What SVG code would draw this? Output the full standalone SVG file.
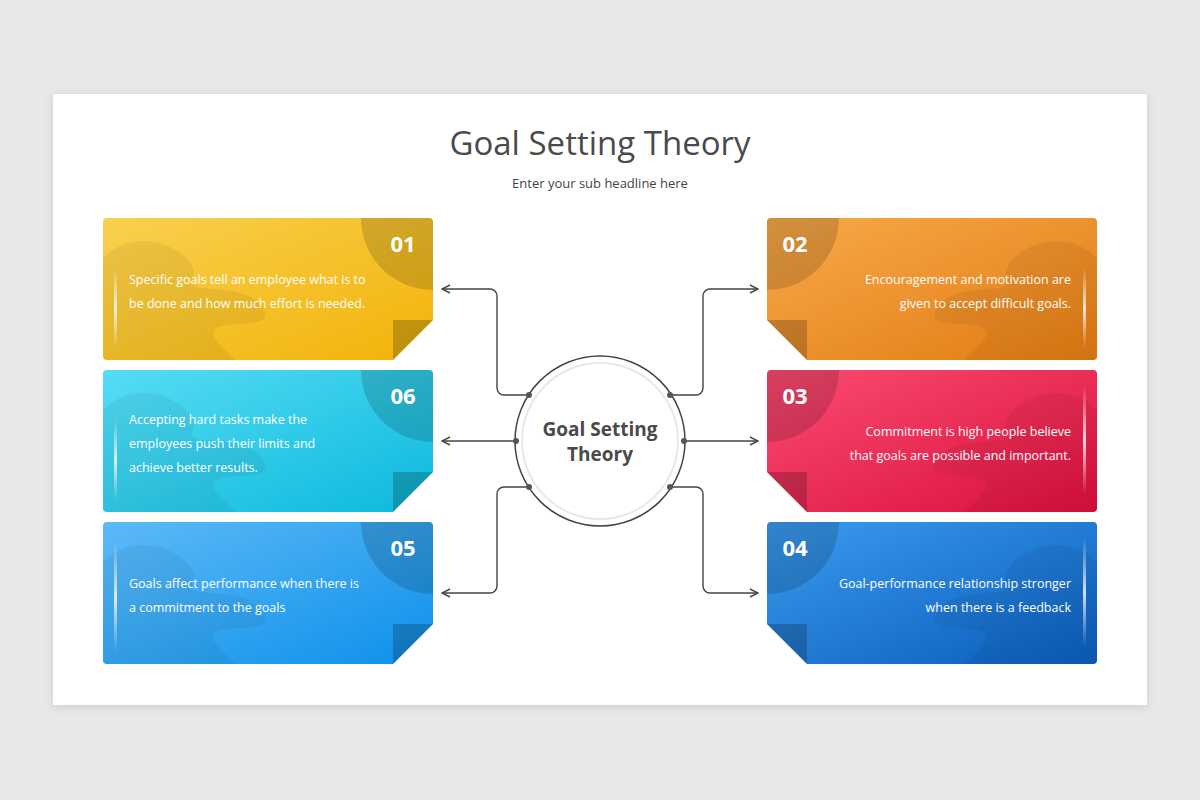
<svg xmlns="http://www.w3.org/2000/svg" width="1200" height="800" viewBox="0 0 1200 800">
<defs>
<linearGradient id="g1" x1="0" y1="0" x2="1" y2="1"><stop offset="0" stop-color="#f9d04f"/><stop offset="1" stop-color="#f2b308"/></linearGradient>
<linearGradient id="g2" x1="0" y1="0" x2="1" y2="1"><stop offset="0" stop-color="#f7aa4a"/><stop offset="1" stop-color="#e27a12"/></linearGradient>
<linearGradient id="g3" x1="0" y1="0" x2="1" y2="1"><stop offset="0" stop-color="#fb4c72"/><stop offset="1" stop-color="#d90f3c"/></linearGradient>
<linearGradient id="g4" x1="0" y1="0" x2="1" y2="1"><stop offset="0" stop-color="#3a9cf0"/><stop offset="1" stop-color="#0a5bb8"/></linearGradient>
<linearGradient id="g5" x1="0" y1="0" x2="1" y2="1"><stop offset="0" stop-color="#5cbaf7"/><stop offset="1" stop-color="#0e90ea"/></linearGradient>
<linearGradient id="g6" x1="0" y1="0" x2="1" y2="1"><stop offset="0" stop-color="#56dcf5"/><stop offset="1" stop-color="#0cb9dc"/></linearGradient>
<linearGradient id="bar" x1="0" y1="0" x2="0" y2="1"><stop offset="0" stop-color="#fff" stop-opacity="0"/><stop offset="0.5" stop-color="#fff" stop-opacity="0.8"/><stop offset="1" stop-color="#fff" stop-opacity="0"/></linearGradient>
<clipPath id="cl"><path d="M4 0H326a4 4 0 0 1 4 4V102L290 142H4a4 4 0 0 1-4-4V4a4 4 0 0 1 4-4Z"/></clipPath>
<clipPath id="cr"><path d="M4 0H326a4 4 0 0 1 4 4V138a4 4 0 0 1-4 4H40L0 102V4a4 4 0 0 1 4-4Z"/></clipPath>
<marker id="ar" viewBox="0 0 10 10" refX="9" refY="5" markerWidth="10" markerHeight="10" orient="auto" markerUnits="userSpaceOnUse"><path d="M1 1L9 5L1 9" fill="none" stroke="#444" stroke-width="1.4"/></marker>
<filter id="sh" x="-10%" y="-10%" width="120%" height="130%"><feDropShadow dx="0" dy="2" stdDeviation="4" flood-color="#000" flood-opacity="0.12"/></filter>
</defs>
<style>
.t{font-family:"Open Sans","Noto Sans",sans-serif;fill:#fff;font-size:12.5px}
.n{font-family:"Open Sans","Noto Sans",sans-serif;fill:#fff;font-size:22px;font-weight:bold}
.ln{fill:none;stroke:#444;stroke-width:1.4}
.dot{fill:#555}
</style>
<rect width="1200" height="800" fill="#e9e8e9"/>
<rect x="53" y="94" width="1094" height="611" fill="#fff" filter="url(#sh)"/>
<text x="600" y="155" text-anchor="middle" font-family="'Open Sans','Noto Sans',sans-serif" font-size="33" fill="#4a4a4a">Goal Setting Theory</text>
<text x="600" y="188" text-anchor="middle" font-family="'Open Sans','Noto Sans',sans-serif" font-size="13" fill="#444">Enter your sub headline here</text>

<g id="card1" transform="translate(103,218)">
<g clip-path="url(#cl)"><rect width="330" height="142" fill="url(#g1)"/>
<path d="M0 40C40 0 100 40 90 60S140 60 160 90 80 90 120 130 140 142 160 142H0Z" fill="#000" opacity="0.06"/>
<circle cx="330" cy="0" r="72" fill="#000" opacity="0.15"/></g>
<path d="M290 102H330L290 142Z" fill="#000" opacity="0.2"/>
<rect x="11" y="50" width="3" height="80" fill="url(#bar)"/>
<text class="n" x="300" y="34" text-anchor="middle">01</text>
<text class="t" x="26" y="66">Specific goals tell an employee what is to</text>
<text class="t" x="26" y="90">be done and how much effort is needed.</text>
</g>
<g id="card6" transform="translate(103,370)">
<g clip-path="url(#cl)"><rect width="330" height="142" fill="url(#g6)"/>
<path d="M0 40C40 0 100 40 90 60S140 60 160 90 80 90 120 130 140 142 160 142H0Z" fill="#000" opacity="0.05"/>
<circle cx="330" cy="0" r="72" fill="#000" opacity="0.15"/></g>
<path d="M290 102H330L290 142Z" fill="#000" opacity="0.2"/>
<rect x="11" y="50" width="3" height="80" fill="url(#bar)"/>
<text class="n" x="300" y="34" text-anchor="middle">06</text>
<text class="t" x="26" y="54">Accepting hard tasks make the</text>
<text class="t" x="26" y="78">employees push their limits and</text>
<text class="t" x="26" y="102">achieve better results.</text>
</g>
<g id="card5" transform="translate(103,522)">
<g clip-path="url(#cl)"><rect width="330" height="142" fill="url(#g5)"/>
<path d="M0 40C40 0 100 40 90 60S140 60 160 90 80 90 120 130 140 142 160 142H0Z" fill="#000" opacity="0.05"/>
<circle cx="330" cy="0" r="72" fill="#000" opacity="0.15"/></g>
<path d="M290 102H330L290 142Z" fill="#000" opacity="0.2"/>
<rect x="11" y="20" width="3" height="110" fill="url(#bar)"/>
<text class="n" x="300" y="34" text-anchor="middle">05</text>
<text class="t" x="26" y="66">Goals affect performance when there is</text>
<text class="t" x="26" y="90">a commitment to the goals</text>
</g>
<g id="card2" transform="translate(767,218)">
<g clip-path="url(#cr)"><rect width="330" height="142" fill="url(#g2)"/>
<path d="M330 40C290 0 230 40 240 60S190 60 170 90 250 90 210 130 190 142 170 142H330Z" fill="#000" opacity="0.06"/>
<circle cx="0" cy="0" r="72" fill="#000" opacity="0.15"/></g>
<path d="M0 102H40V142Z" fill="#000" opacity="0.2"/>
<rect x="316" y="50" width="3" height="80" fill="url(#bar)"/>
<text class="n" x="28" y="34" text-anchor="middle">02</text>
<text class="t" x="304" y="66" text-anchor="end">Encouragement and motivation are</text>
<text class="t" x="304" y="90" text-anchor="end">given to accept difficult goals.</text>
</g>
<g id="card3" transform="translate(767,370)">
<g clip-path="url(#cr)"><rect width="330" height="142" fill="url(#g3)"/>
<path d="M330 40C290 0 230 40 240 60S190 60 170 90 250 90 210 130 190 142 170 142H330Z" fill="#000" opacity="0.05"/>
<circle cx="0" cy="0" r="72" fill="#000" opacity="0.15"/></g>
<path d="M0 102H40V142Z" fill="#000" opacity="0.2"/>
<rect x="316" y="15" width="3" height="110" fill="url(#bar)"/>
<text class="n" x="28" y="34" text-anchor="middle">03</text>
<text class="t" x="304" y="66" text-anchor="end">Commitment is high people believe</text>
<text class="t" x="304" y="90" text-anchor="end">that goals are possible and important.</text>
</g>
<g id="card4" transform="translate(767,522)">
<g clip-path="url(#cr)"><rect width="330" height="142" fill="url(#g4)"/>
<path d="M330 40C290 0 230 40 240 60S190 60 170 90 250 90 210 130 190 142 170 142H330Z" fill="#000" opacity="0.05"/>
<circle cx="0" cy="0" r="72" fill="#000" opacity="0.15"/></g>
<path d="M0 102H40V142Z" fill="#000" opacity="0.2"/>
<rect x="316" y="15" width="3" height="110" fill="url(#bar)"/>
<text class="n" x="28" y="34" text-anchor="middle">04</text>
<text class="t" x="304" y="66" text-anchor="end">Goal-performance relationship stronger</text>
<text class="t" x="304" y="90" text-anchor="end">when there is a feedback</text>
</g>

<g id="center">
<circle cx="600" cy="441" r="85" fill="#fff" stroke="#444" stroke-width="1.5"/>
<circle cx="600" cy="441" r="78" fill="none" stroke="#e8e8e8" stroke-width="2"/>
<text x="600" y="436" text-anchor="middle" font-family="'Open Sans','Noto Sans',sans-serif" font-size="19" font-weight="bold" fill="#4a4a4a">Goal Setting</text>
<text x="600" y="461" text-anchor="middle" font-family="'Open Sans','Noto Sans',sans-serif" font-size="19" font-weight="bold" fill="#4a4a4a">Theory</text>
</g>
<g id="connectors">
<path class="ln" marker-end="url(#ar)" d="M529 395H504a7 7 0 0 1-7-7V296a7 7 0 0 0-7-7H442"/>
<path class="ln" marker-end="url(#ar)" d="M516 441H442"/>
<path class="ln" marker-end="url(#ar)" d="M529 487H504a7 7 0 0 0-7 7V586a7 7 0 0 1-7 7H442"/>
<path class="ln" marker-end="url(#ar)" d="M670 395H696a7 7 0 0 0 7-7V296a7 7 0 0 1 7-7H758"/>
<path class="ln" marker-end="url(#ar)" d="M684 441H758"/>
<path class="ln" marker-end="url(#ar)" d="M670 487H696a7 7 0 0 1 7 7V586a7 7 0 0 0 7 7H758"/>
<circle class="dot" cx="529" cy="395" r="3"/><circle class="dot" cx="516" cy="441" r="3"/><circle class="dot" cx="529" cy="487" r="3"/>
<circle class="dot" cx="670" cy="395" r="3"/><circle class="dot" cx="684" cy="441" r="3"/><circle class="dot" cx="670" cy="487" r="3"/>
</g>
</svg>
